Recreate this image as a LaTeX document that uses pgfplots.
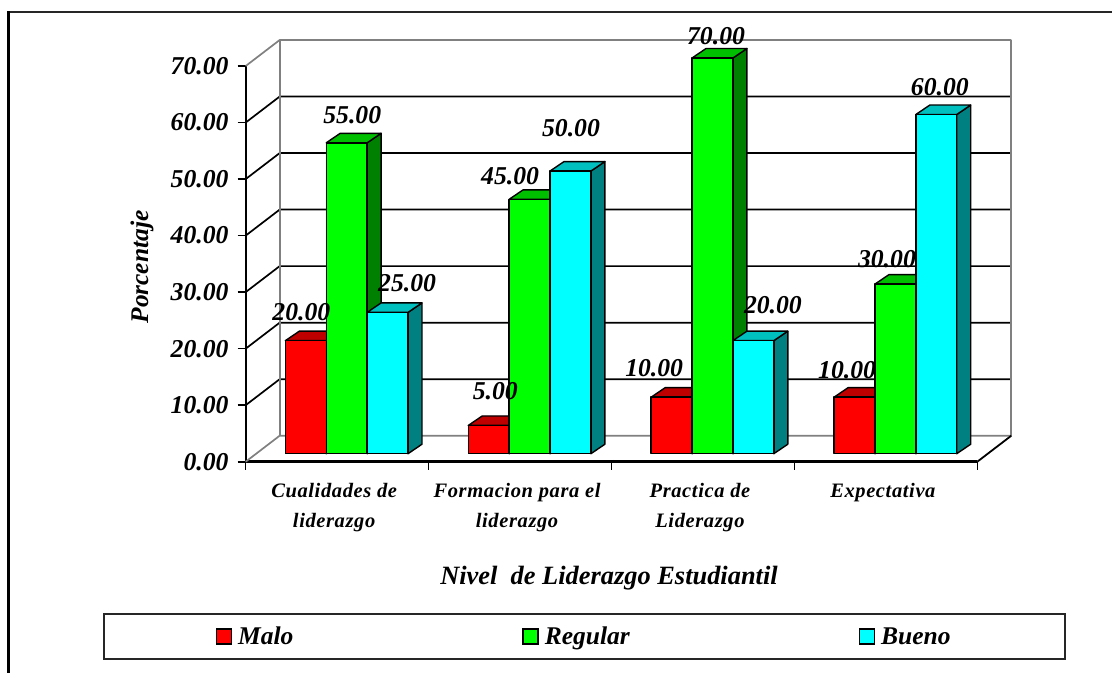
\documentclass[border=0pt]{standalone}
\usepackage{fontspec}
\setmainfont{Liberation Serif}
\usepackage{pgfplots}
\pgfplotsset{compat=1.18}

\definecolor{frontR}{HTML}{FF0000}
\definecolor{topR}{HTML}{BF0000}
\definecolor{sideR}{HTML}{800000}
\definecolor{frontG}{HTML}{00FF00}
\definecolor{topG}{HTML}{00BF00}
\definecolor{sideG}{HTML}{008000}
\definecolor{frontC}{HTML}{00FFFF}
\definecolor{topC}{HTML}{00BFBF}
\definecolor{sideC}{HTML}{008080}
\definecolor{wallgray}{HTML}{808080}

\newcommand{\bigfont}{\fontsize{25.7}{28}\selectfont\bfseries\itshape}
\newcommand{\valuelabel}[1]{\pgfmathprintnumber[fixed,fixed zerofill,precision=2,assume math mode=true]{#1}}

% One depth step of the wall: gridline on the back plane and its diagonal on the side wall
\newcommand{\wallstep}[2]{%
  \pgfmathsetmacro\yb{#1+4.6}%
  \addplot[forget plot,draw=#2,line width=1.7pt] coordinates {(0,#1) (0.1858,\yb) (4.1858,\yb)};%
}

% Value labels are collected here and placed once every bar is drawn
\newcommand{\pendinglabels}{}

% A bar with depth: category slot, position within the slot, value, colour suffix,
% and the placement of its value label
\newcommand{\cubebar}[6]{%
  \pgfmathsetmacro\xa{#1+0.2169+#2*0.2235}%
  \pgfmathsetmacro\xb{\xa+0.2235}%
  \pgfmathsetmacro\xc{\xa+0.0765}%
  \pgfmathsetmacro\xd{\xb+0.0765}%
  \pgfmathsetmacro\ya{1.415}%
  \pgfmathsetmacro\yb{#3+1.415}%
  \pgfmathsetmacro\yc{1.415+1.68}%
  \pgfmathsetmacro\yd{#3+1.415+1.68}%
  \addplot[forget plot,fill=side#4,draw=black,line width=1.4pt,line join=round]
    coordinates {(\xb,\ya) (\xd,\yc) (\xd,\yd) (\xb,\yb)} --cycle;%
  \addplot[forget plot,fill=top#4,draw=black,line width=1.4pt,line join=round]
    coordinates {(\xa,\yb) (\xb,\yb) (\xd,\yd) (\xc,\yd)} --cycle;%
  \addplot[forget plot,fill=front#4,draw=black,line width=1.4pt,line join=round]
    coordinates {(\xa,\ya) (\xb,\ya) (\xb,\yb) (\xa,\yb)} --cycle;%
  \xdef\pendinglabels{\unexpanded\expandafter{\pendinglabels}%
    \noexpand\node[font=\noexpand\bigfont,inner sep=0pt,xshift=#5pt,yshift=#6pt]
    at (axis cs:\xa,\yb) {\noexpand\valuelabel{#3}};}%
}

\begin{document}
\begin{tikzpicture}
\path[use as bounding box] (0pt,0pt) rectangle (1112pt,-673pt);
% Outer frame, cut by the page on the right and at the bottom
\draw[black!85,line width=2.4pt] (7pt,-12pt) -- (1112pt,-12pt);
\draw[black,line width=3pt] (8pt,-11pt) -- (8pt,-673pt);

\begin{axis}[
  at={(245.7pt,-461.7pt)}, anchor=south west,
  scale only axis, width=731.6pt, height=395.7pt,
  clip=false,
  xmin=0, xmax=4, ymin=0, ymax=70,
  axis x line*=bottom, axis y line*=left,
  axis line style={-,black},
  x axis line style={line width=2.6pt},
  y axis line style={line width=2pt},
  tick align=outside,
  major tick length=8pt,
  tick style={black,line width=1.6pt},
  ytick={0,10,...,70},
  xtick={0,1,2,3,4},
  xticklabels={},
  extra x ticks={0.5,1.5,2.5,3.5},
  extra x tick labels={{Cualidades de\\liderazgo},{Formacion para el\\liderazgo},{Practica de\\Liderazgo},{Expectativa}},
  extra x tick style={major tick length=0pt},
  yticklabel style={font=\bigfont,inner sep=0pt,xshift=-9pt,
    /pgf/number format/.cd,fixed,fixed zerofill,precision=2,assume math mode=true},
  xticklabel style={font=\fontsize{20.5}{30}\selectfont\bfseries\itshape\addfontfeature{LetterSpace=3},align=center,anchor=north,inner sep=0pt,xshift=-3pt,yshift=-21pt},
  xlabel={Nivel\ \ de Liderazgo Estudiantil},
  xlabel style={font=\fontsize{26.4}{28}\selectfont\bfseries\itshape,inner sep=0pt,at={(axis description cs:0.4966,-0.2938)},anchor=center},
  ylabel={Porcentaje},
  ylabel style={font=\fontsize{25.4}{28}\selectfont\bfseries\itshape,inner sep=0pt,at={(axis description cs:-0.1417,0.492)},anchor=center},
  legend columns=3,
  legend cell align=left,
  legend style={at={(axis description cs:0.4627,-0.4417)},anchor=center,
    draw=black!85,line width=1.8pt,font=\fontsize{25.5}{28}\selectfont\bfseries\itshape,
    inner xsep=112pt,inner ysep=11pt,
    /tikz/column 1/.style={column sep=4pt},
    /tikz/column 2/.style={column sep=227pt},
    /tikz/column 3/.style={column sep=4pt},
    /tikz/column 4/.style={column sep=227pt},
    /tikz/column 5/.style={column sep=4pt}},
]
% Back plane and side wall
\wallstep{10}{black}
\wallstep{20}{black}
\wallstep{30}{black}
\wallstep{40}{black}
\wallstep{50}{black}
\wallstep{60}{black}
\wallstep{0}{wallgray}
\wallstep{70}{wallgray}
\addplot[forget plot,draw=wallgray,line width=2.2pt] coordinates {(0.1858,74.6) (0.1858,4.6)};
\addplot[forget plot,draw=wallgray,line width=2.2pt] coordinates {(4.1858,74.6) (4.1858,4.6)};
\addplot[forget plot,draw=black,line width=1.8pt] coordinates {(4,0) (4.1858,4.6)};

% Cualidades de liderazgo
\cubebar{0}{0}{20}{R}{16}{29}
\cubebar{0}{1}{55}{G}{26}{28}
\cubebar{0}{2}{25}{C}{40}{29}
% Formacion para el liderazgo
\cubebar{1}{0}{5}{R}{27}{34}
\cubebar{1}{1}{45}{G}{1}{23}
\cubebar{1}{2}{50}{C}{21}{43}
% Practica de Liderazgo
\cubebar{2}{0}{10}{R}{3}{29}
\cubebar{2}{1}{70}{G}{24}{22}
\cubebar{2}{2}{20}{C}{40}{36}
% Expectativa
\cubebar{3}{0}{10}{R}{13}{27}
\cubebar{3}{1}{30}{G}{12}{25}
\cubebar{3}{2}{60}{C}{24}{27}

\pendinglabels

\pgfplotsset{legend image code/.code={\draw[#1] (0pt,-7.5pt) rectangle (15pt,7.5pt);}}
\addlegendimage{fill=frontR,draw=black,line width=1.4pt}
\addlegendentry{Malo}
\addlegendimage{fill=frontG,draw=black,line width=1.4pt}
\addlegendentry{Regular}
\addlegendimage{fill=frontC,draw=black,line width=1.4pt}
\addlegendentry{Bueno}
\end{axis}
\end{tikzpicture}
\end{document}
